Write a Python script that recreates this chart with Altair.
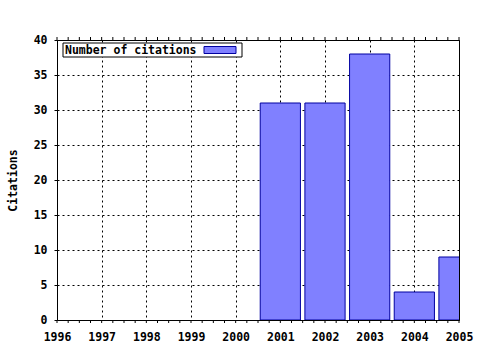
import altair as alt
import pandas as pd

# ---- data ----
years = [2001, 2002, 2003, 2004, 2005]
citations = [31, 31, 38, 4, 9]
x_ticks = [1996, 1997, 1998, 1999, 2000, 2001, 2002, 2003, 2004, 2005]
y_ticks = [0, 5, 10, 15, 20, 25, 30, 35, 40]
series_name = "Number of citations"
y_title = "Citations"

FONT = "DejaVu Sans Mono"
W, H = 402, 280
FILL = "#8080ff"
EDGE = "#0000a0"

df = pd.DataFrame({"year": years, "citations": citations})

xs = alt.Scale(domain=[x_ticks[0], x_ticks[-1]], nice=False, zero=False)
ys = alt.Scale(domain=[y_ticks[0], y_ticks[-1]], nice=False)

bars = (
    alt.Chart(df)
    .transform_calculate(x0="datum.year - 0.45", x1="datum.year + 0.45")
    .mark_rect(fill=FILL, stroke=EDGE, strokeWidth=1, clip=True)
    .encode(
        x=alt.X(
            "x0:Q",
            scale=xs,
            axis=alt.Axis(
                values=x_ticks,
                format="d",
                title=None,
                ticks=False,
                labelPadding=11,
                labelFlush=False,
                domain=False,
            ),
        ),
        x2="x1:Q",
        y=alt.Y(
            "citations:Q",
            scale=ys,
            axis=alt.Axis(
                values=y_ticks,
                title=y_title,
                tickSize=3,
                labelPadding=7,
                titlePadding=15,
                domain=False,
            ),
        ),
        y2=alt.datum(0),
    )
)

minor = alt.sequence(start=x_ticks[0], stop=x_ticks[-1] + 0.001, step=0.25, as_="m")

bottom_ticks = (
    alt.Chart(minor)
    .mark_rule(color="black", strokeWidth=1)
    .encode(x=alt.X("m:Q", scale=xs), y=alt.value(H), y2=alt.value(H + 3))
)
top_ticks = (
    alt.Chart(minor)
    .mark_rule(color="black", strokeWidth=1)
    .encode(x=alt.X("m:Q", scale=xs), y=alt.value(-3), y2=alt.value(0))
)

# legend box (top-left inside the plot)
leg_box = (
    alt.Chart(pd.DataFrame({"k": [series_name]}))
    .mark_rect(fill="white", stroke="black", strokeWidth=1)
    .encode(x=alt.value(6), x2=alt.value(185), y=alt.value(3), y2=alt.value(17))
)
leg_text = (
    alt.Chart(pd.DataFrame({"k": [series_name]}))
    .mark_text(align="left", baseline="middle", font=FONT, fontWeight="bold", fontSize=11.5, color="black")
    .encode(text="k:N", x=alt.value(8), y=alt.value(10.5))
)
leg_swatch = (
    alt.Chart(pd.DataFrame({"k": [series_name]}))
    .mark_rect(fill=FILL, stroke=EDGE, strokeWidth=1)
    .encode(x=alt.value(147), x2=alt.value(179), y=alt.value(6.5), y2=alt.value(13.5))
)

chart = (
    alt.layer(bars, bottom_ticks, top_ticks, leg_box, leg_text, leg_swatch)
    .properties(
        width=W,
        height=H,
        autosize=alt.AutoSizeParams(type="none"),
        padding={"left": 57, "top": 40, "right": 21, "bottom": 30},
        background="white",
    )
    .configure_view(stroke="black", strokeWidth=1)
    .configure_axis(
        grid=True,
        gridColor="black",
        gridOpacity=1,
        gridDash=[2, 3],
        gridWidth=1,
        tickColor="black",
        labelFont=FONT,
        labelFontWeight="bold",
        labelFontSize=11.5,
        labelColor="black",
        titleFont=FONT,
        titleFontWeight="bold",
        titleFontSize=11.5,
        titleColor="black",
    )
)

chart.save("out.html", embed_options={"renderer": "svg", "actions": False})
